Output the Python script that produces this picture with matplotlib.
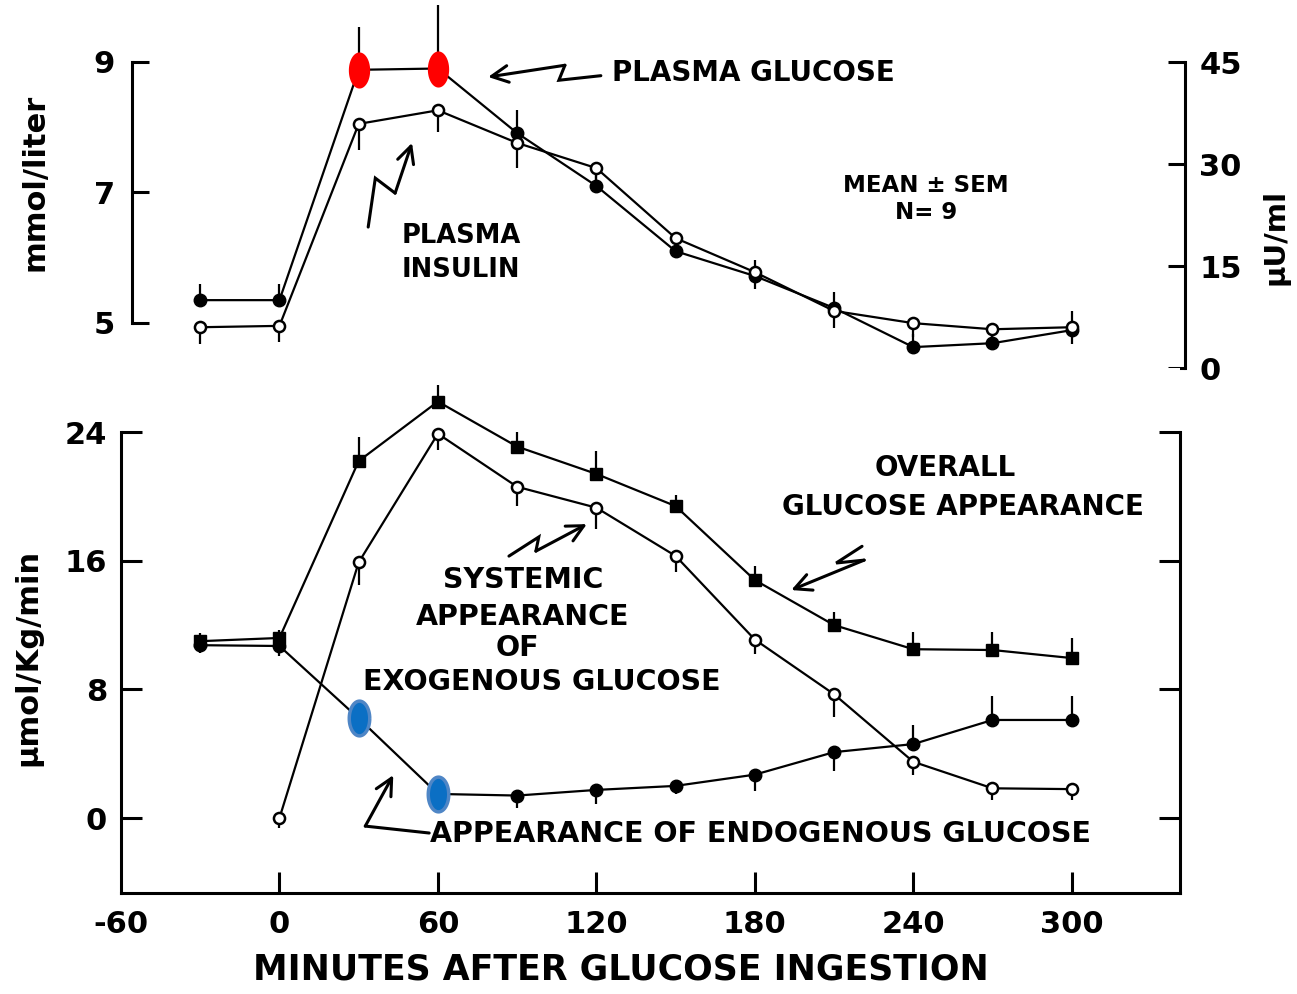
import numpy as np
import matplotlib
matplotlib.use('Agg')
import matplotlib.pyplot as plt
from matplotlib.path import Path

plt.rcParams.update({
    'font.family': 'DejaVu Sans',
    'font.weight': 'bold',
    'axes.linewidth': 2.2,
    'axes.unicode_minus': False,
})

# Sampling times (min after glucose ingestion)
minutes = [-30, 0, 30, 60, 90, 120, 150, 180, 210, 240, 270, 300]

# Upper panel: plasma glucose (mmol/liter) and plasma insulin (uU/ml)
glucose = [5.35, 5.35, 8.88, 8.90, 7.91, 7.10, 6.10, 5.72, 5.23, 4.63, 4.69, 4.89]
glucose_sem = [0.25, 0.25, 0.65, 0.97, 0.35, 0.30, 0.30, 0.25, 0.25, 0.20, 0.25, 0.30]
insulin = [6.0, 6.2, 35.9, 37.9, 33.1, 29.4, 19.1, 14.1, 8.4, 6.6, 5.7, 6.0]
insulin_sem = [2.4, 2.4, 3.8, 3.2, 3.7, 3.0, 2.5, 2.5, 2.5, 2.0, 2.0, 2.5]

# Lower panel: glucose appearance rates (umol/Kg/min)
overall = [11.0, 11.2, 22.2, 25.9, 23.1, 21.4, 19.4, 14.8, 12.0, 10.5, 10.45, 9.95]
overall_sem = [0.5, 0.5, 1.5, 1.05, 0.9, 1.4, 0.7, 0.9, 0.8, 1.05, 1.1, 1.25]
exo_minutes = [0, 30, 60, 90, 120, 150, 180, 210, 240, 270, 300]
exogenous = [0.0, 15.9, 23.9, 20.6, 19.3, 16.3, 11.1, 7.7, 3.5, 1.85, 1.8]
exogenous_sem = [0.6, 1.4, 1.0, 1.2, 1.3, 1.0, 0.9, 1.4, 0.8, 0.75, 0.7]
endogenous = [10.75, 10.7, 6.2, 1.5, 1.4, 1.75, 2.0, 2.7, 4.1, 4.6, 6.1, 6.1]
endo_sem_lo = [0.5, 0.6, 1.0, 0.5, 0.8, 0.9, 0.5, 1.0, 1.2, 0.0, 0.0, 0.0]
endo_sem_hi = [0.5, 0.0, 0.0, 0.0, 0.0, 0.0, 0.0, 0.0, 0.0, 1.2, 1.5, 1.5]

# points flagged with coloured ovals (30 and 60 min)
flagged = [30, 60]

x_ticks = [-60, 0, 60, 120, 180, 240, 300]
glu_ticks = [5, 7, 9]
ins_ticks = [0, 15, 30, 45]
rate_ticks = [0, 8, 16, 24]

# tall oval marker
t = np.linspace(0, 2 * np.pi, 60)
oval = Path(np.column_stack([0.59 * np.cos(t), np.sin(t)]))

LW = 1.6
filled = dict(marker='o', ms=9, mfc='k', mec='k', color='k', lw=LW)
opened = dict(marker='o', ms=8, mfc='white', mec='k', mew=1.8, color='k', lw=LW)
bar_kw = dict(fmt='none', ecolor='k', elinewidth=1.6, capsize=0)


def zigzag(ax, pts, lw=2.2):
    xs, ys = zip(*pts)
    ax.plot(xs[:-1], ys[:-1], color='k', lw=lw, solid_capstyle='round',
            solid_joinstyle='miter', clip_on=False)
    ax.annotate('', xy=pts[-1], xytext=pts[-2], annotation_clip=False,
                arrowprops=dict(arrowstyle='->', lw=lw, color='k',
                                mutation_scale=30, shrinkA=0, shrinkB=0))


fig = plt.figure(figsize=(12.97, 9.94), dpi=100)
X0, X1 = -60, 341
left, width = 121 / 1297, 1059 / 1297

# ---------------- upper panel ----------------
ax_t = fig.add_axes([left, 1 - 380 / 994, width, 380 / 994])
ax_t.set_xlim(X0, X1)
ax_t.set_ylim(4.126, 9.95)
ax_i = ax_t.twinx()
ax_i.set_ylim(-1.76, 54.12)
ax_t.patch.set_visible(False)

for s in ['top', 'bottom', 'right']:
    ax_t.spines[s].set_visible(False)
ax_t.spines['left'].set_position(('data', -56))
ax_t.spines['left'].set_bounds(5, 9)
for s in ['top', 'bottom', 'left']:
    ax_i.spines[s].set_visible(False)
ax_i.spines['right'].set_position(('data', 343))
ax_i.spines['right'].set_bounds(0, 45)
ax_t.set_xticks([])
ax_t.set_yticks(glu_ticks)
ax_i.set_yticks(ins_ticks)
ax_t.tick_params(axis='y', direction='in', length=12, width=2.2, labelsize=22, pad=12)
ax_i.tick_params(axis='y', direction='in', length=12, width=2.2, labelsize=22, pad=10)

ax_t.errorbar(minutes, glucose, yerr=[np.zeros(len(minutes)), glucose_sem], **bar_kw)
ax_t.plot(minutes, glucose, **filled)
ax_i.errorbar(minutes, insulin, yerr=[insulin_sem, np.zeros(len(minutes))], **bar_kw)
ax_i.plot(minutes, insulin, **opened)
g_flag = [glucose[minutes.index(m)] for m in flagged]
ax_t.plot(flagged, g_flag, ls='none', marker=oval, ms=26, mfc='#ff0000', mec='none', zorder=5)

ax_t.text(179.5, 8.83, 'PLASMA GLUCOSE', ha='center', va='center', fontsize=20)
ax_t.text(68.8, 6.33, 'PLASMA', ha='center', va='center', fontsize=18.5)
ax_t.text(68.8, 5.81, 'INSULIN', ha='center', va='center', fontsize=18.5)
ax_t.text(244.8, 7.11, 'MEAN ± SEM', ha='center', va='center', fontsize=16.5)
ax_t.text(244.8, 6.69, 'N= 9', ha='center', va='center', fontsize=16.5)
zigzag(ax_t, [(121.7, 8.79), (105.8, 8.72), (108.1, 8.95), (79.0, 8.77)])
zigzag(ax_t, [(33.6, 6.47), (36.3, 7.22), (43.8, 6.99), (50.2, 7.76)])

# ---------------- lower panel ----------------
ax_b = fig.add_axes([left, 101 / 994, width, (893 - 367.8) / 994])
ax_b.set_xlim(X0, X1)
ax_b.set_ylim(-4.66, 28)
ax_b.spines['top'].set_visible(False)
ax_b.spines['left'].set_bounds(-4.66, 24)
ax_b.spines['right'].set_bounds(-4.66, 24)
ax_b.set_xticks(x_ticks)
ax_b.set_yticks(rate_ticks)
ax_b.tick_params(axis='x', direction='in', length=15, width=2.2, labelsize=22, pad=12)
ax_b.tick_params(axis='y', direction='in', length=15, width=2.2, labelsize=22, pad=10,
                 left=True, right=True, labelright=False)
ax_b.xaxis.get_major_ticks()[0].tick1line.set_visible(False)

ax_b.errorbar(minutes, overall, yerr=[np.zeros(len(minutes)), overall_sem], **bar_kw)
ax_b.plot(minutes, overall, **dict(filled, marker='s', ms=9))
ax_b.errorbar(exo_minutes, exogenous, yerr=[exogenous_sem, np.zeros(len(exo_minutes))], **bar_kw)
ax_b.plot(exo_minutes, exogenous, **opened)
ax_b.errorbar(minutes, endogenous, yerr=[endo_sem_lo, endo_sem_hi], **bar_kw)
ax_b.plot(minutes, endogenous, **filled)
e_flag = [endogenous[minutes.index(m)] for m in flagged]
ax_b.plot(flagged, e_flag, ls='none', marker=oval, ms=25, mfc='#0b6fc4', mec='#4f86c6',
          mew=2.5, zorder=5)

ax_b.text(252, 21.77, 'OVERALL', ha='center', va='center', fontsize=20)
ax_b.text(258.8, 19.34, 'GLUCOSE APPEARANCE', ha='center', va='center', fontsize=20)
ax_b.text(92.2, 14.8, 'SYSTEMIC', ha='center', va='center', fontsize=20.5)
ax_b.text(92.2, 12.5, 'APPEARANCE', ha='center', va='center', fontsize=20.5)
ax_b.text(90, 10.57, 'OF', ha='center', va='center', fontsize=20.5)
ax_b.text(99.4, 8.46, 'EXOGENOUS GLUCOSE', ha='center', va='center', fontsize=20.5)
ax_b.text(182, -1.0, 'APPEARANCE OF ENDOGENOUS GLUCOSE', ha='center', va='center', fontsize=20.5)
zigzag(ax_b, [(86.9, 16.29), (98.2, 17.48), (97.1, 16.6), (116.4, 18.28)])
zigzag(ax_b, [(220.6, 16.9), (210.8, 15.86), (221.4, 16.04), (193.8, 14.18)])
zigzag(ax_b, [(56.7, -0.93), (32.5, -0.5), (43.1, 2.67)])

fig.text(35 / 1297, 1 - 182 / 994, 'mmol/liter', rotation=90, ha='center', va='center', fontsize=22)
fig.text(1275 / 1297, 1 - 237 / 994, 'µU/ml', rotation=90, ha='center', va='center', fontsize=21)
fig.text(28 / 1297, 1 - 657 / 994, 'µmol/Kg/min', rotation=90, ha='center', va='center', fontsize=22)
fig.text(621 / 1297, 1 - 970 / 994, 'MINUTES AFTER GLUCOSE INGESTION', ha='center', va='center',
         fontsize=25)

fig.savefig('out.png', dpi=100, facecolor='white')
